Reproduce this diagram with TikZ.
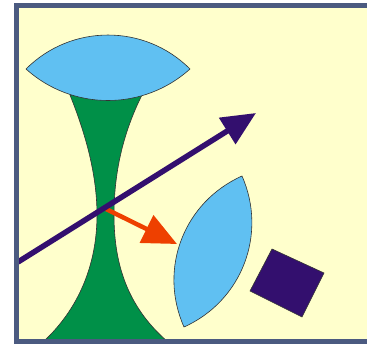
\documentclass[tikz,border=0pt]{standalone}
\usetikzlibrary{arrows.meta}

\definecolor{paper}{RGB}{255,255,204}
\definecolor{frame}{RGB}{75,90,128}
\definecolor{glass}{RGB}{96,192,242}
\definecolor{stem}{RGB}{0,144,72}
\definecolor{ray}{RGB}{51,15,110}
\definecolor{hit}{RGB}{238,64,0}

\begin{document}
\begin{tikzpicture}[
  x=1pt,y=-1pt,
  outline/.style={draw=black!80,line width=0.6pt},
  lens/.style={outline,fill=glass},
  shaft/.style={line width=#1,-{Triangle[length=34pt,width=30pt]}},
]
\useasboundingbox (0,0) rectangle (367,344);

% background panel
\fill[paper] (16,6) rectangle (380,342);

% green waist (top hidden under the upper lens)
\path[outline,fill=stem] (70,95)
  .. controls (86,135) and (97,175) .. (97,215)
  .. controls (97,258) and (83,305) .. (43,342)
  -- (168,342)
  .. controls (125,305) and (114,260) .. (114,215)
  .. controls (114,175) and (122,135) .. (142,95) -- cycle;

% upper lens
\path[lens] (26,69)
  .. controls (71.3,23.7) and (144.7,23.7) .. (190,69)
  .. controls (143.4,111) and (72.6,111) .. (26,69) -- cycle;

% lower lens, tilted
\path[lens] (184,327)
  .. controls (158,268.5) and (184,202) .. (242,176)
  .. controls (267.5,234) and (242,301) .. (184,327) -- cycle;

% dark square
\path[outline,fill=ray] (272,249) -- (324,273) -- (302,317) -- (250,291) -- cycle;

% arrows
\coordinate (hitstart) at (104,208);
\coordinate (hitend) at (177,244);
\coordinate (raystart) at (18,262);
\coordinate (rayend) at (256,113);
\draw[shaft=4.5pt,hit] (hitstart) -- (hitend);
\draw[shaft=5.5pt,ray] (raystart) -- (rayend);

% frame
\draw[frame,line width=5pt] (380,6) -- (16,6) -- (16,341.5) -- (380,341.5);
\end{tikzpicture}
\end{document}
